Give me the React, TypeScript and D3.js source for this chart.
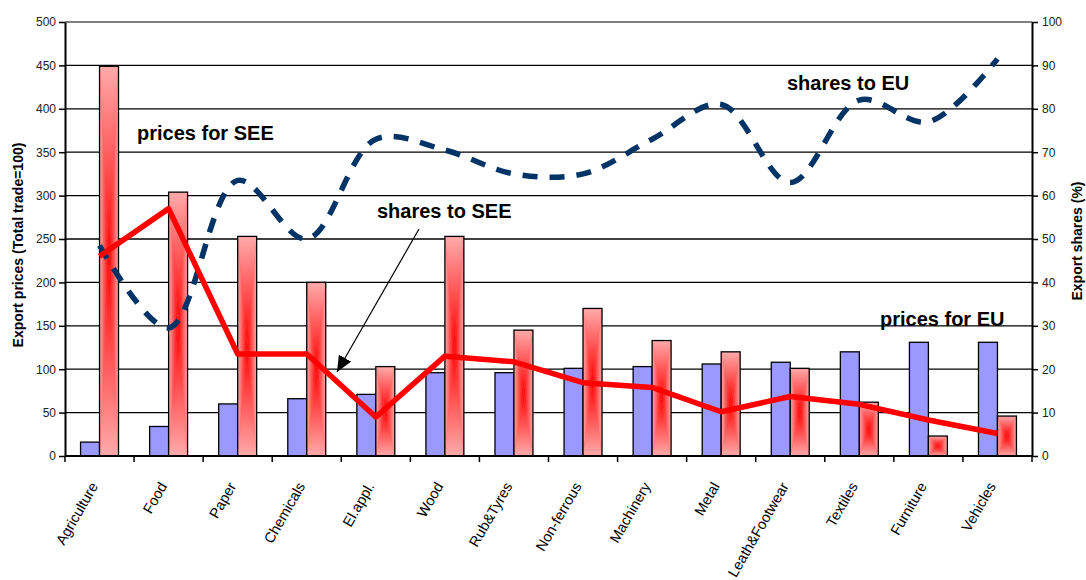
import { useEffect, useRef } from "react";
import * as d3 from "d3";

const categories = [
  "Agriculture",
  "Food",
  "Paper",
  "Chemicals",
  "El.appl.",
  "Wood",
  "Rub&Tyres",
  "Non-ferrous",
  "Machinery",
  "Metal",
  "Leath&Footwear",
  "Textiles",
  "Furniture",
  "Vehicles",
];
// export prices, left axis (Total trade=100)
const pricesEU = [16, 34, 60, 66, 71, 96, 96, 101, 103, 106, 108, 120, 131, 131];
const pricesSEE = [449, 304, 253, 200, 103, 253, 145, 170, 133, 120, 101, 62, 23, 46];
// export shares, right axis (%)
const sharesSEE = [46, 57, 23.5, 23.5, 9, 23, 21.7, 16.9, 15.8, 10.2, 13.7, 11.9, 8.3, 5.2];
const sharesEU = [48.5, 29.5, 63.5, 50, 73, 70.5, 65, 65, 73, 81, 63, 82, 77, 91.5];
const priceTicks = d3.range(0, 501, 50);
const shareTicks = d3.range(0, 101, 10);

const notes = [
  { text: "prices for SEE", x: 137, y: 140 },
  { text: "shares to EU", x: 787, y: 90 },
  { text: "shares to SEE", x: 377, y: 218 },
  { text: "prices for EU", x: 880, y: 326 },
];

const W = 1086;
const H = 580;
const left = 65;
const right = 1032;
const top = 22;
const bottom = 456;
const font = "'Liberation Sans', Arial, sans-serif";

const App = () => {
  const ref = useRef<SVGSVGElement | null>(null);

  useEffect(() => {
    if (!ref.current) return;
    const svg = d3.select(ref.current);
    svg.selectAll("*").remove();

    const x = d3.scaleBand<string>().domain(categories).range([left, right]);
    const inner = d3
      .scaleBand<string>()
      .domain(["eu", "see"])
      .range([0, x.bandwidth()])
      .paddingOuter(0.82);
    const yL = d3.scaleLinear().domain([0, 500]).range([bottom, top]);
    const yR = d3.scaleLinear().domain([0, 100]).range([bottom, top]);
    const cx = (c: string) => x(c)! + x.bandwidth() / 2;

    // gradients for the SEE bars (rectangular "from center" look)
    const defs = svg.append("defs");
    const light = "#ffaaaa";
    const red = "#ff0000";
    const grad = (id: string, x1: number, y1: number, x2: number, y2: number) => {
      const g = defs
        .append("linearGradient")
        .attr("id", id)
        .attr("x1", x1)
        .attr("y1", y1)
        .attr("x2", x2)
        .attr("y2", y2);
      g.append("stop").attr("offset", 0).attr("stop-color", light);
      g.append("stop").attr("offset", 1).attr("stop-color", red);
    };
    grad("gL", 0, 0, 1, 0);
    grad("gR", 1, 0, 0, 0);
    grad("gT", 0, 0, 0, 1);
    grad("gB", 0, 1, 0, 0);

    defs
      .append("marker")
      .attr("id", "arrow")
      .attr("markerUnits", "userSpaceOnUse")
      .attr("markerWidth", 16)
      .attr("markerHeight", 14)
      .attr("refX", 16)
      .attr("refY", 7)
      .attr("orient", "auto")
      .append("path")
      .attr("d", "M0,0 L16,7 L0,14 z")
      .attr("fill", "#000");

    svg.append("rect").attr("width", W).attr("height", H).attr("fill", "#fff");

    // gridlines
    svg
      .append("g")
      .selectAll("line")
      .data(priceTicks.filter(d => d > 0))
      .enter()
      .append("line")
      .attr("x1", left)
      .attr("x2", right)
      .attr("y1", d => yL(d))
      .attr("y2", d => yL(d))
      .attr("stroke", d => (d === 500 ? "#808080" : "#000"))
      .attr("stroke-width", d => (d === 500 ? 2 : 1.3));

    // EU price bars
    svg
      .append("g")
      .selectAll("rect")
      .data(categories)
      .enter()
      .append("rect")
      .attr("x", c => x(c)! + inner("eu")!)
      .attr("width", inner.bandwidth())
      .attr("y", (_, i) => yL(pricesEU[i]))
      .attr("height", (_, i) => bottom - yL(pricesEU[i]))
      .attr("fill", "#9999ff")
      .attr("stroke", "#000")
      .attr("stroke-width", 1.3);

    // SEE price bars
    const see = svg.append("g");
    categories.forEach((c, i) => {
      const x0 = x(c)! + inner("see")!;
      const w = inner.bandwidth();
      const y0 = yL(pricesSEE[i]);
      const h = bottom - y0;
      const mx = x0 + w / 2;
      const my = y0 + h / 2;
      const g = see.append("g");
      g.append("rect").attr("x", x0).attr("y", y0).attr("width", w).attr("height", h).attr("fill", "#ff6666");
      const tri = [
        { id: "gL", p: [[x0, y0], [x0, y0 + h], [mx, my]] },
        { id: "gR", p: [[x0 + w, y0], [x0 + w, y0 + h], [mx, my]] },
        { id: "gT", p: [[x0, y0], [x0 + w, y0], [mx, my]] },
        { id: "gB", p: [[x0, y0 + h], [x0 + w, y0 + h], [mx, my]] },
      ];
      tri.forEach(t =>
        g
          .append("polygon")
          .attr("points", t.p.map(q => q.join(",")).join(" "))
          .attr("fill", `url(#${t.id})`)
      );
      g.append("rect")
        .attr("x", x0)
        .attr("y", y0)
        .attr("width", w)
        .attr("height", h)
        .attr("fill", "none")
        .attr("stroke", "#000")
        .attr("stroke-width", 1.3);
    });

    // shares to EU, smoothed dashed line
    const euLine = d3
      .line<number>()
      .x((_, i) => cx(categories[i]))
      .y(d => yR(d))
      .curve(d3.curveCatmullRom.alpha(0.5));
    svg
      .append("path")
      .attr("d", euLine(sharesEU)!)
      .attr("fill", "none")
      .attr("stroke", "#003366")
      .attr("stroke-width", 5.5)
      .attr("stroke-dasharray", "15 12");

    // shares to SEE
    const seeLine = d3
      .line<number>()
      .x((_, i) => cx(categories[i]))
      .y(d => yR(d));
    svg
      .append("path")
      .attr("d", seeLine(sharesSEE)!)
      .attr("fill", "none")
      .attr("stroke", "#ff0000")
      .attr("stroke-width", 5.5)
      .attr("stroke-linejoin", "round");

    // x axis
    const xa = svg.append("g");
    xa.append("line")
      .attr("x1", left)
      .attr("x2", right)
      .attr("y1", bottom)
      .attr("y2", bottom)
      .attr("stroke", "#000")
      .attr("stroke-width", 2);
    xa.selectAll("line.tick")
      .data([...categories.map(c => x(c)!), right])
      .enter()
      .append("line")
      .attr("class", "tick")
      .attr("x1", d => d)
      .attr("x2", d => d)
      .attr("y1", bottom)
      .attr("y2", bottom + 6)
      .attr("stroke", "#000")
      .attr("stroke-width", 1.5);
    xa.selectAll("text")
      .data(categories)
      .enter()
      .append("text")
      .attr("transform", c => `translate(${cx(c) - 1},${486}) rotate(-60)`)
      .attr("text-anchor", "end")
      .attr("font-family", font)
      .attr("font-size", 14.5)
      .attr("fill", "#000")
      .text(c => c);

    // y axes
    const styleAxis = (g: d3.Selection<SVGGElement, unknown, null, undefined>) => {
      g.select(".domain").attr("stroke", "#000").attr("stroke-width", 2);
      g.selectAll(".tick line").attr("stroke", "#000").attr("stroke-width", 1.5);
      g.selectAll(".tick text").attr("font-family", font).attr("font-size", 12).attr("fill", "#222");
    };
    svg
      .append("g")
      .attr("transform", `translate(${left},0)`)
      .call(d3.axisLeft(yL).tickValues(priceTicks).tickSize(6).tickSizeOuter(0).tickPadding(3))
      .call(styleAxis);
    svg
      .append("g")
      .attr("transform", `translate(${right},0)`)
      .call(d3.axisRight(yR).tickValues(shareTicks).tickSize(6).tickSizeOuter(0).tickPadding(4))
      .call(styleAxis);

    // axis titles
    svg
      .append("text")
      .attr("transform", `translate(23,${(top + bottom) / 2 + 6}) rotate(-90)`)
      .attr("text-anchor", "middle")
      .attr("font-family", font)
      .attr("font-weight", "bold")
      .attr("font-size", 14)
      .text("Export prices (Total trade=100)");
    svg
      .append("text")
      .attr("transform", `translate(1082,${(top + bottom) / 2 + 2}) rotate(-90)`)
      .attr("text-anchor", "middle")
      .attr("font-family", font)
      .attr("font-weight", "bold")
      .attr("font-size", 14)
      .text("Export shares (%)");

    // annotations
    svg
      .append("g")
      .selectAll("text")
      .data(notes)
      .enter()
      .append("text")
      .attr("x", d => d.x)
      .attr("y", d => d.y)
      .attr("font-family", font)
      .attr("font-weight", "bold")
      .attr("font-size", 20)
      .text(d => d.text);
    svg
      .append("line")
      .attr("x1", 419)
      .attr("y1", 229)
      .attr("x2", 337)
      .attr("y2", 372)
      .attr("stroke", "#000")
      .attr("stroke-width", 1.2)
      .attr("marker-end", "url(#arrow)");
  }, []);

  return (
    <div style={{ position: "absolute", left: 0, top: 0 }}>
      <svg ref={ref} width={W} height={H} style={{ display: "block" }} />
    </div>
  );
};

export default App;
